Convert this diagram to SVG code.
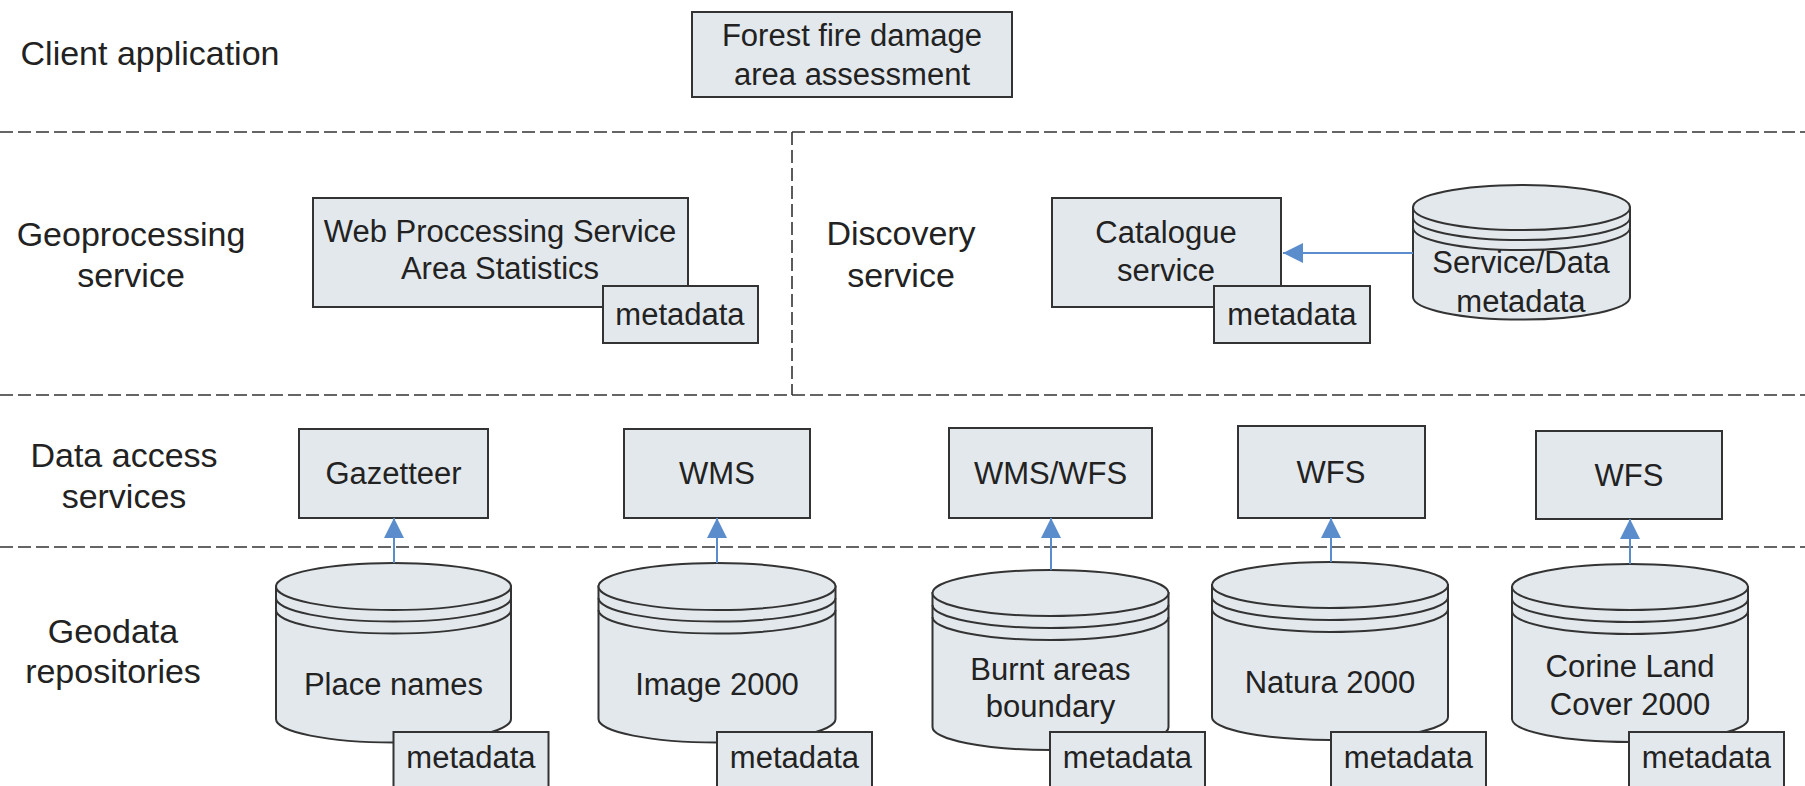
<svg xmlns="http://www.w3.org/2000/svg" width="1805" height="786" viewBox="0 0 1805 786">
<defs>
<style>
.sep{stroke:#333;stroke-width:1.6;stroke-dasharray:13 5;fill:none}
.box{fill:#e3e8ec;stroke:#333;stroke-width:2}
.lbl{font-family:"Liberation Sans",Arial,sans-serif;font-size:34px;fill:#222;text-anchor:middle}
.txt{font-family:"Liberation Sans",Arial,sans-serif;font-size:31px;fill:#222;text-anchor:middle}
.conn{stroke:#5b8dcc;stroke-width:2;fill:none}
.arc{fill:none;stroke:#333;stroke-width:2}
</style>
<marker id="ah" markerWidth="20" markerHeight="20" viewBox="0 0 20 20" refX="20" refY="10" orient="auto" markerUnits="userSpaceOnUse">
<path d="M0,0 L20,10 L0,20 Z" fill="#5b8dcc"/>
</marker>
</defs>
<rect width="1805" height="786" fill="#fff"/>

<g id="separators">
<line class="sep" x1="0" y1="132" x2="1805" y2="132"/>
<line class="sep" x1="0" y1="395" x2="1805" y2="395"/>
<line class="sep" x1="0" y1="547" x2="1805" y2="547"/>
<line class="sep" x1="792" y1="132" x2="792" y2="395"/>
</g>

<g id="layer-labels">
<text class="lbl" x="150" y="65">Client application</text>
<text class="lbl" x="131" y="246">Geoprocessing</text>
<text class="lbl" x="131" y="287">service</text>
<text class="lbl" x="901" y="245">Discovery</text>
<text class="lbl" x="901" y="287">service</text>
<text class="lbl" x="124" y="467">Data access</text>
<text class="lbl" x="124" y="508">services</text>
<text class="lbl" x="113" y="643">Geodata</text>
<text class="lbl" x="113" y="683">repositories</text>
</g>

<g id="forest-fire">
<rect class="box" x="692" y="12" width="320" height="85"/>
<text class="txt" x="852" y="46">Forest fire damage</text>
<text class="txt" x="852" y="85">area assessment</text>
</g>

<g id="wps">
<rect class="box" x="313" y="198" width="375" height="109"/>
<text class="txt" x="500" y="242">Web Proccessing Service</text>
<text class="txt" x="500" y="279">Area Statistics</text>
<rect class="box" x="603" y="286" width="155" height="57"/>
<text class="txt" x="680" y="325">metadata</text>
</g>

<g id="catalogue">
<rect class="box" x="1052" y="198" width="229" height="109"/>
<text class="txt" x="1166" y="243">Catalogue</text>
<text class="txt" x="1166" y="281">service</text>
<rect class="box" x="1214" y="286" width="156" height="57"/>
<text class="txt" x="1292" y="325">metadata</text>
</g>

<g id="service-data-metadata">
<path class="box" d="M1413,207.5 L1413,297 A108.5,22.5 0 0 0 1630,297 L1630,207.5 Z"/>
<ellipse class="box" cx="1521.5" cy="207.5" rx="108.5" ry="22.5"/>
<path class="arc" d="M1413,217.5 A108.5,22.5 0 0 0 1630,217.5"/>
<path class="arc" d="M1413,227.5 A108.5,22.5 0 0 0 1630,227.5"/>
<text class="txt" x="1521" y="273">Service/Data</text>
<text class="txt" x="1521" y="312">metadata</text>
</g>

<g id="gazetteer">
<rect class="box" x="299" y="429" width="189" height="89"/>
<text class="txt" x="393.5" y="484">Gazetteer</text>
</g>
<g id="wms">
<rect class="box" x="624" y="429" width="186" height="89"/>
<text class="txt" x="717" y="484">WMS</text>
</g>
<g id="wms-wfs">
<rect class="box" x="949" y="428" width="203" height="90"/>
<text class="txt" x="1050.5" y="484">WMS/WFS</text>
</g>
<g id="wfs-1">
<rect class="box" x="1238" y="426" width="187" height="92"/>
<text class="txt" x="1331" y="483">WFS</text>
</g>
<g id="wfs-2">
<rect class="box" x="1536" y="431" width="186" height="88"/>
<text class="txt" x="1629" y="486">WFS</text>
</g>

<g id="place-names">
<path class="box" d="M276,586.5 L276,719 A117.5,23.5 0 0 0 511,719 L511,586.5 Z"/>
<ellipse class="box" cx="393.5" cy="586.5" rx="117.5" ry="23.5"/>
<path class="arc" d="M276,598 A117.5,23.5 0 0 0 511,598"/>
<path class="arc" d="M276,610 A117.5,23.5 0 0 0 511,610"/>
<text class="txt" x="393.5" y="695">Place names</text>
<rect class="box" x="393.5" y="732" width="155" height="60"/>
<text class="txt" x="471" y="768">metadata</text>
</g>

<g id="image-2000">
<path class="box" d="M598.5,586.5 L598.5,719 A118.5,23.5 0 0 0 835.5,719 L835.5,586.5 Z"/>
<ellipse class="box" cx="717" cy="586.5" rx="118.5" ry="23.5"/>
<path class="arc" d="M598.5,598 A118.5,23.5 0 0 0 835.5,598"/>
<path class="arc" d="M598.5,610 A118.5,23.5 0 0 0 835.5,610"/>
<text class="txt" x="717" y="695">Image 2000</text>
<rect class="box" x="717" y="732" width="155" height="60"/>
<text class="txt" x="794.5" y="768">metadata</text>
</g>

<g id="burnt-areas">
<path class="box" d="M932.5,593 L932.5,727 A118,23 0 0 0 1168.5,727 L1168.5,593 Z"/>
<ellipse class="box" cx="1050.5" cy="593" rx="118" ry="23"/>
<path class="arc" d="M932.5,605 A118,23 0 0 0 1168.5,605"/>
<path class="arc" d="M932.5,617 A118,23 0 0 0 1168.5,617"/>
<text class="txt" x="1050.5" y="680">Burnt areas</text>
<text class="txt" x="1050.5" y="717">boundary</text>
<rect class="box" x="1050" y="732" width="155" height="60"/>
<text class="txt" x="1127.5" y="768">metadata</text>
</g>

<g id="natura-2000">
<path class="box" d="M1212,585 L1212,717 A118,23 0 0 0 1448,717 L1448,585 Z"/>
<ellipse class="box" cx="1330" cy="585" rx="118" ry="23"/>
<path class="arc" d="M1212,597 A118,23 0 0 0 1448,597"/>
<path class="arc" d="M1212,609 A118,23 0 0 0 1448,609"/>
<text class="txt" x="1330" y="693">Natura 2000</text>
<rect class="box" x="1331" y="732" width="155" height="60"/>
<text class="txt" x="1408.5" y="768">metadata</text>
</g>

<g id="corine">
<path class="box" d="M1512,587 L1512,719 A118,23 0 0 0 1748,719 L1748,587 Z"/>
<ellipse class="box" cx="1630" cy="587" rx="118" ry="23"/>
<path class="arc" d="M1512,599 A118,23 0 0 0 1748,599"/>
<path class="arc" d="M1512,611 A118,23 0 0 0 1748,611"/>
<text class="txt" x="1630" y="677">Corine Land</text>
<text class="txt" x="1630" y="715">Cover 2000</text>
<rect class="box" x="1629" y="732" width="155" height="60"/>
<text class="txt" x="1706.5" y="768">metadata</text>
</g>

<g id="connectors">
<line class="conn" x1="1413" y1="253" x2="1283" y2="253" marker-end="url(#ah)"/>
<line class="conn" x1="394" y1="563" x2="394" y2="518" marker-end="url(#ah)"/>
<line class="conn" x1="717" y1="563" x2="717" y2="518" marker-end="url(#ah)"/>
<line class="conn" x1="1051" y1="570" x2="1051" y2="518" marker-end="url(#ah)"/>
<line class="conn" x1="1331" y1="562" x2="1331" y2="518" marker-end="url(#ah)"/>
<line class="conn" x1="1630" y1="564" x2="1630" y2="519" marker-end="url(#ah)"/>
</g>
</svg>
